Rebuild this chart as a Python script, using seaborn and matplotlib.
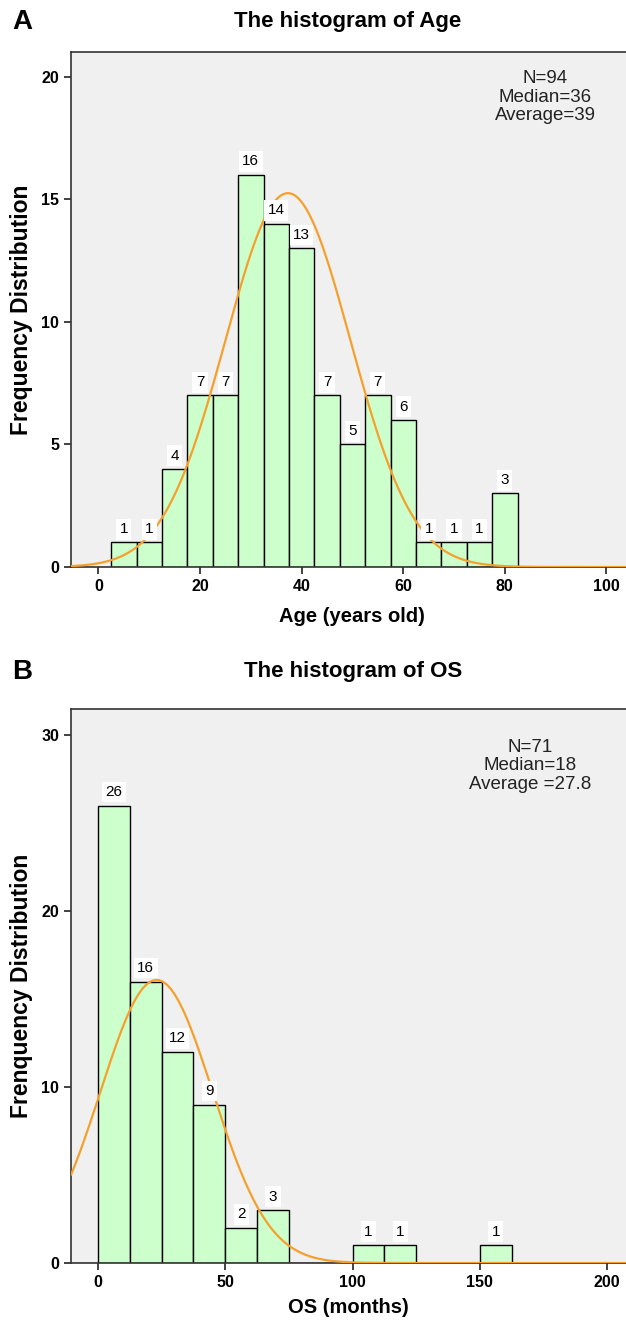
import numpy as np
import pandas as pd
import seaborn as sns
import matplotlib.pyplot as plt

# data
age_edges = [2.5, 7.5, 12.5, 17.5, 22.5, 27.5, 32.5, 37.5, 42.5, 47.5,
             52.5, 57.5, 62.5, 67.5, 72.5, 77.5, 82.5]
age_counts = [1, 1, 4, 7, 7, 16, 14, 13, 7, 5, 7, 6, 1, 1, 1, 3]
age_mean, age_sd = 37.3, 12.3   # fitted normal curve

os_edges = [0, 12.5, 25, 37.5, 50, 62.5, 75, 87.5, 100, 112.5, 125, 137.5, 150, 162.5]
os_counts = [26, 16, 12, 9, 2, 3, 0, 0, 1, 1, 0, 0, 1]
os_mean, os_sd = 23.0, 22.0

sns.set_style('ticks')
plt.rcParams['font.family'] = ['Liberation Sans', 'DejaVu Sans']
plt.rcParams['text.color'] = 'black'
plt.rcParams['axes.labelcolor'] = 'black'

W, H = 626, 1323
fig = plt.figure(figsize=(W / 100, H / 100), dpi=100)

bar_col = '#ccffcc'
curve_col = '#f5a02c'
bg = '#f0f0f0'


def panel(rect, edges, counts, mean, sd, xlim, ylim, xticks, yticks, xlabel, ylabel):
    ax = fig.add_axes(rect)
    ax.set_facecolor(bg)
    e = np.array(edges, dtype=float)
    centers = (e[:-1] + e[1:]) / 2
    df = pd.DataFrame({'x': centers, 'w': counts})
    sns.histplot(data=df, x='x', weights='w', bins=list(edges), ax=ax, color=bar_col,
                 edgecolor='black', linewidth=1.0, alpha=1, zorder=2)
    # normal curve scaled to counts
    n = sum(counts)
    bw = e[1] - e[0]
    xs = np.linspace(xlim[0], xlim[1], 400)
    ys = n * bw / (sd * np.sqrt(2 * np.pi)) * np.exp(-0.5 * ((xs - mean) / sd) ** 2)
    ax.plot(xs, ys, color=curve_col, linewidth=1.6, zorder=3)
    for c, v in zip(centers, counts):
        if v > 0:
            ax.text(c, v + ylim[1] * 0.012, str(v), ha='center', va='bottom', fontsize=11,
                    bbox=dict(boxstyle='square,pad=0.22', fc='white', ec='none'), zorder=4)
    ax.set_xlim(xlim)
    ax.set_ylim(ylim)
    ax.set_xticks(xticks)
    ax.set_yticks(yticks)
    ax.tick_params(direction='out', length=5, width=1.2, labelsize=11.5, colors='#222222',
                   labelcolor='black')
    for lab in ax.get_xticklabels() + ax.get_yticklabels():
        lab.set_fontweight('bold')
    for s in ['left', 'top', 'bottom']:
        ax.spines[s].set_visible(True)
        ax.spines[s].set_color('#333333')
        ax.spines[s].set_linewidth(1.2)
    ax.spines['right'].set_visible(False)
    ax.set_xlabel(xlabel, fontsize=14.5, fontweight='bold', va='top')
    ax.set_ylabel(ylabel, fontsize=16.5, fontweight='bold', va='center')
    return ax


axA = panel([71 / W, 1 - 567 / H, 555 / W, 515 / H], age_edges, age_counts, age_mean, age_sd,
            (-5.4, 103.85), (0, 21.0), [0, 20, 40, 60, 80, 100], [0, 5, 10, 15, 20],
            'Age (years old)', 'Frequency Distribution')
axA.xaxis.set_label_coords(0.506, -(607 - 567) / 515)
axA.yaxis.set_label_coords(-49 / 555, 0.5)

axB = panel([71 / W, 1 - 1263 / H, 555 / W, 554 / H], os_edges, os_counts, os_mean, os_sd,
            (-10.6, 207.4), (0, 31.5), [0, 50, 100, 150, 200], [0, 10, 20, 30],
            'OS (months)', 'Frenquency Distribution')
axB.xaxis.set_label_coords(0.5, -(1298 - 1263) / 554)
axB.yaxis.set_label_coords(-49 / 555, 0.5)

# panel letters and titles
fig.text(22 / W, 1 - 22 / H, 'A', fontsize=20, fontweight='bold', ha='center', va='center')
fig.text(348 / W, 1 - 22 / H, 'The histogram of Age', fontsize=16, fontweight='bold',
         ha='center', va='center')
fig.text(22 / W, 1 - 672 / H, 'B', fontsize=20, fontweight='bold', ha='center', va='center')
fig.text(353 / W, 1 - 672 / H, 'The histogram of OS', fontsize=16, fontweight='bold',
         ha='center', va='center')

fig.text(545 / W, 1 - 97 / H, 'N=94\nMedian=36\nAverage=39', fontsize=13.5, ha='center',
         va='center', multialignment='center', linespacing=1.1, color='#222222')
fig.text(530 / W, 1 - 766 / H, 'N=71\nMedian=18\nAverage =27.8', fontsize=13.5, ha='center',
         va='center', multialignment='center', linespacing=1.1, color='#222222')

fig.savefig('out.png', dpi=100, facecolor='white')
